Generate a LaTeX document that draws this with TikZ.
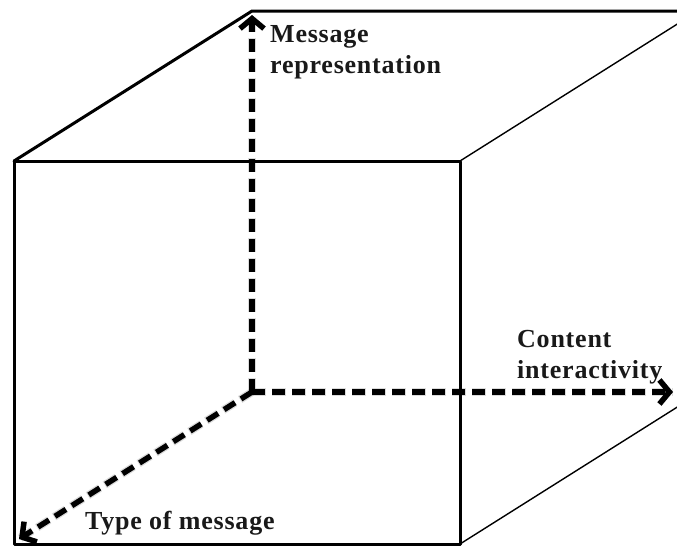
\documentclass[tikz,border=0pt]{standalone}
\usepackage{fontspec}
\setmainfont{Liberation Serif}
\newfontfamily\labelfont[LetterSpace=3]{Liberation Serif}
\usetikzlibrary{arrows.meta}
\begin{document}
\begin{tikzpicture}[x=1pt,y=-1pt,
  edge/.style={line width=3pt,line cap=round,line join=round},
  thinedge/.style={line width=1.4pt},
  axis/.style={line width=5.5pt,dash pattern=on 13pt off 7pt,
    -{Straight Barb[length=10pt,width=24pt,line width=0pt 1]}},
  axisshadow/.style={line width=8pt,dash pattern=on 14pt off 6pt,
    draw=black!35,opacity=0.4},
  lbl/.style={font=\labelfont\bfseries\fontsize{26}{31}\selectfont,
    text=black!90,inner sep=0pt,align=left}]
\useasboundingbox (0,0) rectangle (677,546);
\clip (0,0) rectangle (677,546);
\fill[white] (0,0) rectangle (677,546);

% cube corners: front face and back face
\coordinate (A) at (14,161);
\coordinate (B) at (460,161);
\coordinate (C) at (460,544);
\coordinate (D) at (14,544);
\coordinate (E) at (252,11);
\coordinate (F) at (698,11);
\coordinate (G) at (698,394);
\coordinate (O) at (252,392);

% axis ends
\coordinate (up) at (252,15);
\coordinate (right) at (673,392);
\coordinate (down) at (19,539);

% soft shadow under the axes
\begin{scope}[shift={(2,3)}]
  \draw[axisshadow] (O) -- (up);
  \draw[axisshadow] (O) -- (right);
  \draw[axisshadow] (O) -- (down);
\end{scope}

% cube edges
\draw[edge] (A) rectangle (C);
\draw[edge] (A) -- (E) -- (F);
\draw[thinedge] (B) -- (F);
\draw[thinedge] (C) -- (G);

% dashed axes
\draw[axis] (O) -- (up);
\draw[axis] (O) -- (right);
\draw[axis] (O) -- (down);

% axis labels
\node[lbl,anchor=north west] (rep) at (270,25) {Message\\representation};
\node[lbl,anchor=north west] (inter) at (517,330) {Content\\interactivity};
\node[lbl,anchor=base west] (type) at (85,529) {Type of message};
\end{tikzpicture}
\end{document}
